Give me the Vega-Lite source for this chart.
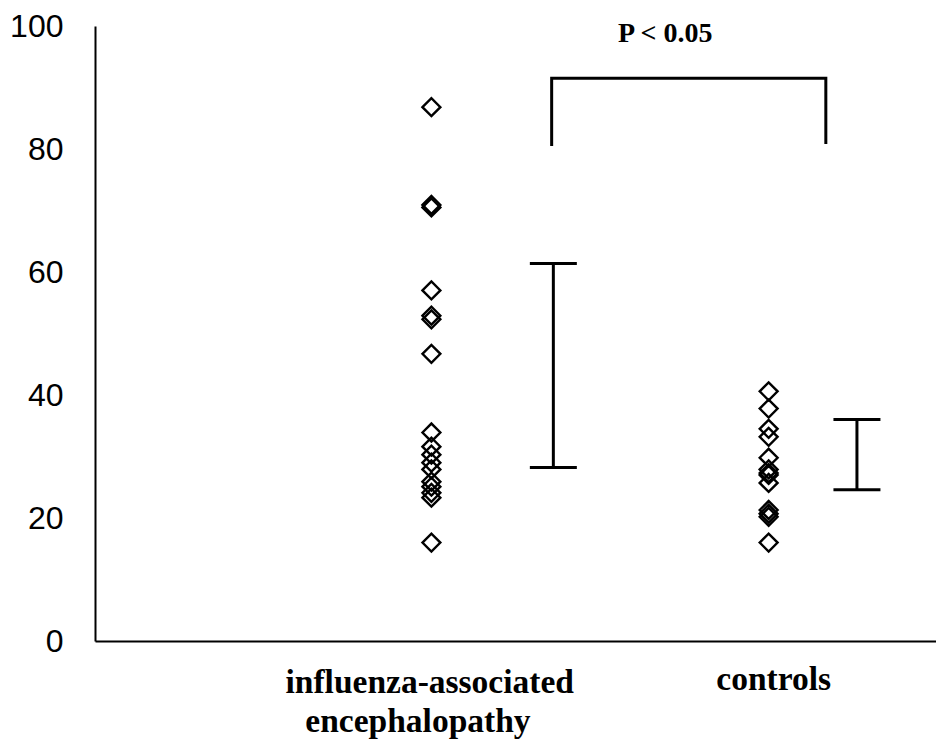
{
  "$schema": "https://vega.github.io/schema/vega-lite/v6.json",
  "width": 841,
  "height": 615,
  "autosize": {"type": "none"},
  "padding": {"left": 95, "top": 26, "right": 0, "bottom": 103},
  "background": "white",
  "config": {"view": {"stroke": null}},
  "layer": [
    {
      "data": {"values": [
        {"group": "influenza-associated encephalopathy", "pos": 40, "value": 86.8},
        {"group": "influenza-associated encephalopathy", "pos": 40, "value": 70.9},
        {"group": "influenza-associated encephalopathy", "pos": 40, "value": 70.5},
        {"group": "influenza-associated encephalopathy", "pos": 40, "value": 57.0},
        {"group": "influenza-associated encephalopathy", "pos": 40, "value": 52.9},
        {"group": "influenza-associated encephalopathy", "pos": 40, "value": 52.3},
        {"group": "influenza-associated encephalopathy", "pos": 40, "value": 46.7},
        {"group": "influenza-associated encephalopathy", "pos": 40, "value": 33.9},
        {"group": "influenza-associated encephalopathy", "pos": 40, "value": 31.6},
        {"group": "influenza-associated encephalopathy", "pos": 40, "value": 30.3},
        {"group": "influenza-associated encephalopathy", "pos": 40, "value": 29.0},
        {"group": "influenza-associated encephalopathy", "pos": 40, "value": 27.9},
        {"group": "influenza-associated encephalopathy", "pos": 40, "value": 25.9},
        {"group": "influenza-associated encephalopathy", "pos": 40, "value": 25.1},
        {"group": "influenza-associated encephalopathy", "pos": 40, "value": 24.1},
        {"group": "influenza-associated encephalopathy", "pos": 40, "value": 23.3},
        {"group": "influenza-associated encephalopathy", "pos": 40, "value": 16.0},
        {"group": "controls", "pos": 80.1, "value": 40.6},
        {"group": "controls", "pos": 80.1, "value": 37.8},
        {"group": "controls", "pos": 80.1, "value": 34.5},
        {"group": "controls", "pos": 80.1, "value": 33.2},
        {"group": "controls", "pos": 80.1, "value": 29.8},
        {"group": "controls", "pos": 80.1, "value": 27.9},
        {"group": "controls", "pos": 80.1, "value": 27.3},
        {"group": "controls", "pos": 80.1, "value": 27.0},
        {"group": "controls", "pos": 80.1, "value": 25.7},
        {"group": "controls", "pos": 80.1, "value": 21.3},
        {"group": "controls", "pos": 80.1, "value": 20.7},
        {"group": "controls", "pos": 80.1, "value": 20.2},
        {"group": "controls", "pos": 80.1, "value": 16.0}
      ]},
      "mark": {"type": "point", "shape": "diamond", "size": 320, "filled": false, "stroke": "black", "strokeWidth": 2.4, "opacity": 1},
      "encoding": {
        "x": {"field": "pos", "type": "quantitative", "scale": {"domain": [0, 100], "nice": false},
          "axis": {"title": null, "labels": false, "ticks": false, "grid": false, "domainColor": "black", "domainWidth": 2}},
        "y": {"field": "value", "type": "quantitative", "scale": {"domain": [0, 100], "nice": false},
          "axis": {"title": null, "values": [0, 20, 40, 60, 80, 100], "ticks": false, "grid": false, "domainColor": "black", "domainWidth": 2,
            "labelFont": "Liberation Sans", "labelFontSize": 32, "labelColor": "black", "labelPadding": 32}}
      }
    },
    {
      "data": {"values": [
        {"group": "influenza-associated encephalopathy", "pos": 54.5, "low": 28.2, "high": 61.4},
        {"group": "controls", "pos": 90.6, "low": 24.6, "high": 36.0}
      ]},
      "layer": [
        {"mark": {"type": "rule", "color": "black", "strokeWidth": 3},
          "encoding": {"x": {"field": "pos", "type": "quantitative"}, "y": {"field": "low", "type": "quantitative"}, "y2": {"field": "high"}}},
        {"mark": {"type": "tick", "orient": "horizontal", "color": "black", "size": 47, "thickness": 3, "opacity": 1},
          "encoding": {"x": {"field": "pos", "type": "quantitative"}, "y": {"field": "low", "type": "quantitative"}}},
        {"mark": {"type": "tick", "orient": "horizontal", "color": "black", "size": 47, "thickness": 3, "opacity": 1},
          "encoding": {"x": {"field": "pos", "type": "quantitative"}, "y": {"field": "high", "type": "quantitative"}}}
      ]
    },
    {
      "data": {"values": [
        {"order": 1, "bx": 54.3, "by": 80.5},
        {"order": 2, "bx": 54.3, "by": 91.5},
        {"order": 3, "bx": 86.9, "by": 91.5},
        {"order": 4, "bx": 86.9, "by": 80.8}
      ]},
      "mark": {"type": "line", "color": "black", "strokeWidth": 3, "strokeJoin": "miter"},
      "encoding": {
        "x": {"field": "bx", "type": "quantitative"},
        "y": {"field": "by", "type": "quantitative"},
        "order": {"field": "order", "type": "quantitative"}
      }
    },
    {
      "data": {"values": [
        {"label": "P < 0.05", "tx": 67.8, "ty": 97.4}
      ]},
      "mark": {"type": "text", "font": "Liberation Serif", "fontSize": 28, "fontWeight": "bold", "baseline": "alphabetic", "align": "center", "color": "black"},
      "encoding": {
        "x": {"field": "tx", "type": "quantitative"},
        "y": {"field": "ty", "type": "quantitative"},
        "text": {"field": "label"}
      }
    },
    {
      "data": {"values": [
        {"label": "influenza-associated", "tx": 39.8, "ty": -8.46},
        {"label": "encephalopathy", "tx": 38.4, "ty": -14.8},
        {"label": "controls", "tx": 80.7, "ty": -8.0}
      ]},
      "mark": {"type": "text", "font": "Liberation Serif", "fontSize": 33.5, "fontWeight": "bold", "baseline": "alphabetic", "align": "center", "color": "black", "clip": false},
      "encoding": {
        "x": {"field": "tx", "type": "quantitative"},
        "y": {"field": "ty", "type": "quantitative"},
        "text": {"field": "label"}
      }
    }
  ]
}
